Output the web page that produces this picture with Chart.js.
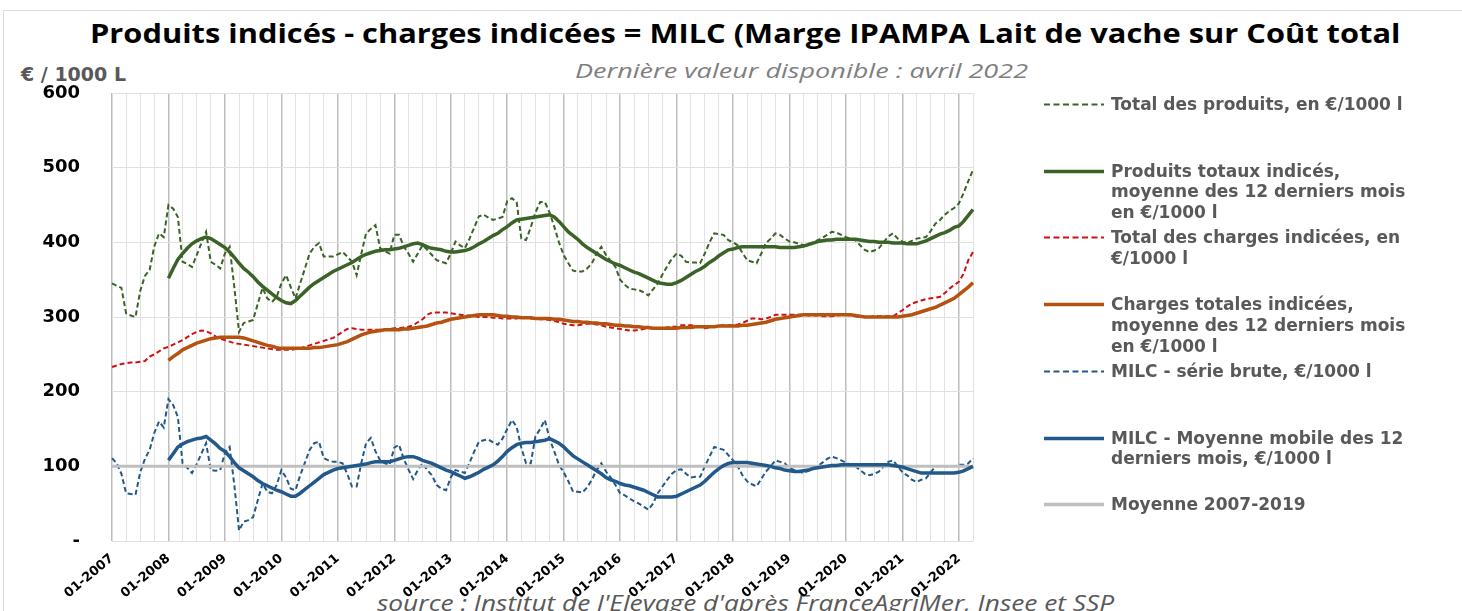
<!DOCTYPE html>
<html>
<head>
<meta charset="utf-8">
<style>
  body { margin: 0; background: #fff; }
  .wrap { position: relative; width: 1462px; height: 611px; overflow: hidden; }
  .frame { position: absolute; left: 3px; top: 10px; width: 1470px; height: 640px; border: 1px solid #dcdcdc; }
  canvas { position: absolute; left: 0; top: 0; }
  .fit { position: absolute; white-space: nowrap; transform-origin: 0 0; }
  .title { top: 14px; left: 90px; font: bold 27px "Open Sans", sans-serif; color: #000; }
  .sub { top: 57px; left: 575px; font: italic 20px "Open Sans", sans-serif; color: #7f7f7f; }
  .unit { position: absolute; top: 63px; left: 21px; font: bold 19px "DejaVu Sans", sans-serif; color: #595959; }
  .source { top: 587px; left: 377px; font: italic 22px "Open Sans", sans-serif; color: #595959; }
  .leg { position: absolute; left: 1043px; display: flex; align-items: flex-start; }
  .leg svg { flex: none; }
  .leg .txt { margin-left: 6px; font: bold 17px "DejaVu Sans", sans-serif; line-height: 20.7px; color: #595959; white-space: nowrap; }
</style>
</head>
<body>
<div class="wrap">
  <div class="frame"></div>
  <div class="fit title" data-w="1310">Produits indicés - charges indicées = MILC (Marge IPAMPA Lait de vache sur Coût total</div>
  <div class="fit sub" data-w="453">Dernière valeur disponible : avril 2022</div>
  <div class="unit">€ / 1000 L</div>
  <div class="fit source" data-w="737">source : Institut de l'Elevage d'après FranceAgriMer, Insee et SSP</div>
  <canvas id="milc" width="1462" height="611"></canvas>
  <div id="legend"></div>
</div>

<script src="https://cdn.jsdelivr.net/npm/chart.js"></script>
<script>
  // months 01-2007 .. 04-2022
  var labels = [];
  for (var y = 2007; y <= 2022; y++) {
    for (var m = 1; m <= 12; m++) {
      if (y === 2022 && m > 4) break;
      labels.push((m < 10 ? '0' + m : '' + m) + '-' + y);
    }
  }

  // Total des produits, en €/1000 l
  var totalProduits = [
    345, 342, 339, 305, 302, 300, 335, 355, 363, 395, 412, 407, // 2007
    450, 445, 434, 374, 371, 367, 383, 399, 414, 374, 370, 365, // 2008
    385, 394, 340, 280, 292, 294, 296, 318, 339, 325, 320, 327, // 2009
    345, 356, 340, 325, 345, 365, 385, 394, 399, 381, 381, 381, // 2010
    384, 387, 381, 374, 356, 385, 412, 418, 423, 392, 388, 385, // 2011
    410, 410, 395, 385, 374, 385, 396, 390, 383, 376, 374, 372, // 2012
    385, 401, 396, 392, 405, 420, 435, 437, 433, 430, 432, 434, // 2013
    455, 459, 454, 405, 403, 420, 440, 454, 454, 440, 421, 400, // 2014
    383, 372, 362, 361, 361, 365, 372, 385, 394, 383, 375, 367, // 2015
    350, 343, 338, 337, 336, 333, 329, 337, 345, 357, 368, 378, // 2016
    385, 382, 374, 373, 373, 372, 385, 400, 412, 411, 410, 403, // 2017
    400, 396, 386, 376, 374, 372, 385, 399, 405, 412, 410, 405, // 2018
    401, 400, 398, 396, 398, 400, 403, 406, 410, 414, 413, 410, // 2019
    407, 405, 403, 396, 390, 387, 389, 392, 400, 408, 412, 405, // 2020
    401, 399, 402, 405, 406, 407, 415, 425, 430, 437, 442, 446, // 2021
    452, 466, 482, 497                                          // 2022
  ];

  // Produits totaux indicés, moyenne des 12 derniers mois
  var produitsMoy = [
    null, null, null, null, null, null, null, null, null, null, null, null,
    352, 365, 377, 385, 392, 398, 402, 405, 407, 405, 401, 397,
    393, 387, 380, 372, 365, 360, 354, 347, 341, 336, 331, 326,
    322, 319, 318, 322, 328, 334, 340, 345, 349, 353, 357, 361,
    364, 367, 370, 373, 377, 381, 384, 386, 388, 389, 390, 390,
    391, 392, 394, 396, 398, 399, 397, 394, 392, 391, 390, 388,
    387, 387, 388, 389, 391, 394, 398, 401, 405, 409, 412, 417,
    421, 426, 430, 431, 432, 433, 434, 435, 436, 437, 434, 428,
    421, 414, 409, 404, 398, 393, 389, 385, 381, 377, 374, 371,
    369, 366, 363, 360, 358, 355, 352, 349, 346, 345, 344, 344,
    346, 349, 353, 357, 361, 364, 368, 373, 377, 382, 386, 390,
    391, 393, 394, 394, 394, 394, 394, 394, 394, 394, 393, 393,
    393, 393, 394, 395, 397, 399, 401, 402, 403, 403, 404, 404,
    404, 404, 404, 403, 402, 401, 401, 400, 400, 400, 399, 399,
    399, 398, 398, 398, 400, 402, 405, 408, 411, 413, 416, 420,
    422, 428, 436, 444
  ];

  // Total des charges indicées, en €/1000 l
  var totalCharges = [
    233, 235, 237, 238, 239, 239, 240, 241, 247, 250, 254, 258,
    260, 263, 266, 269, 273, 277, 280, 282, 281, 278, 274, 271,
    269, 267, 265, 264, 263, 262, 261, 260, 259, 258, 257, 256,
    256, 256, 256, 257, 258, 260, 262, 264, 266, 268, 270, 272,
    276, 280, 284, 285, 284, 283, 283, 283, 283, 283, 283, 284,
    285, 285, 286, 287, 289, 293, 297, 303, 306, 306, 306, 306,
    305, 304, 303, 302, 302, 301, 300, 300, 300, 299, 299, 298,
    298, 298, 298, 299, 299, 298, 298, 297, 297, 296, 295, 293,
    291, 290, 289, 289, 290, 291, 291, 290, 289, 287, 286, 285,
    284, 283, 282, 282, 283, 284, 285, 285, 285, 285, 286, 287,
    287, 289, 289, 289, 288, 287, 285, 286, 287, 288, 289, 289,
    289, 290, 292, 295, 298, 298, 297, 298, 300, 303, 303, 303,
    303, 303, 303, 303, 302, 302, 302, 301, 301, 301, 302, 303,
    303, 302, 301, 300, 300, 300, 301, 301, 301, 301, 301, 305,
    309, 314, 318, 320, 322, 324, 325, 326, 327, 332, 338, 343,
    347, 358, 376, 387
  ];

  // Charges totales indicées, moyenne des 12 derniers mois
  var chargesMoy = [
    null, null, null, null, null, null, null, null, null, null, null, null,
    242, 247, 251, 256, 259, 262, 265, 267, 269, 271, 272, 273,
    273, 273, 273, 273, 272, 270, 268, 266, 264, 262, 261, 259,
    258, 258, 258, 258, 258, 258, 258, 259, 259, 260, 261, 262,
    263, 265, 267, 270, 273, 276, 278, 280, 281, 282, 283, 283,
    283, 283, 284, 284, 285, 286, 287, 288, 290, 292, 293, 295,
    297, 298, 299, 300, 301, 302, 303, 303, 303, 303, 302, 301,
    301, 300, 300, 299, 299, 299, 298, 298, 298, 298, 297, 297,
    296, 295, 294, 294, 293, 293, 292, 292, 291, 291, 290, 289,
    289, 288, 288, 287, 287, 286, 286, 285, 285, 285, 285, 285,
    285, 286, 286, 286, 287, 287, 287, 287, 287, 288, 288, 288,
    288, 288, 289, 289, 290, 291, 292, 293, 295, 297, 298, 299,
    300, 301, 302, 303, 303, 303, 303, 303, 303, 303, 303, 303,
    303, 303, 302, 301, 300, 300, 300, 300, 300, 300, 300, 300,
    301, 302, 303, 305, 307, 309, 311, 313, 316, 319, 322, 325,
    330, 335, 340, 346
  ];

  // MILC - série brute
  var milcBrute = [
    111, 104, 90, 64, 63, 62, 92, 110, 122, 145, 160, 152,
    190, 182, 166, 104, 98, 91, 103, 117, 131, 95, 94, 95,
    118, 126, 75, 14, 26, 28, 32, 55, 77, 66, 64, 75,
    95, 85, 70, 68, 88, 105, 122, 131, 133, 111, 108, 106,
    106, 104, 90, 73, 73, 105, 131, 138, 120, 108, 104, 102,
    125, 129, 110, 96, 83, 95, 104, 95, 88, 75, 70, 68,
    85, 95, 93, 91, 105, 120, 133, 135, 136, 132, 129, 137,
    150, 162, 153, 125, 104, 104, 140, 150, 162, 137, 120, 102,
    92, 80, 66, 66, 65, 72, 82, 95, 104, 93, 85, 75,
    64, 61, 57, 53, 50, 46, 42, 50, 64, 73, 82, 90,
    95, 96, 90, 85, 86, 86, 100, 113, 126, 124, 122, 115,
    108, 100, 88, 80, 76, 73, 83, 93, 100, 108, 106, 104,
    98, 95, 93, 91, 94, 97, 100, 105, 110, 113, 111, 108,
    105, 102, 100, 95, 90, 88, 90, 93, 100, 106, 108, 100,
    92, 88, 82, 79, 82, 84, 92, 100, 100, 100, 100, 100,
    102, 102, 104, 111
  ];

  // MILC - moyenne mobile des 12 derniers mois
  var milcMoy = [
    null, null, null, null, null, null, null, null, null, null, null, null,
    108, 117, 126, 130, 133, 135, 137, 138, 140, 135, 130, 124,
    120, 113, 105, 98, 94, 90, 86, 81, 77, 74, 71, 68,
    66, 63, 60, 60, 64, 69, 74, 79, 84, 89, 92, 95,
    97, 98, 99, 100, 101, 102, 103, 105, 106, 106, 106, 106,
    108, 110, 112, 113, 113, 111, 108, 106, 104, 101, 98, 95,
    93, 90, 87, 84, 86, 89, 92, 96, 99, 102, 107, 113,
    120, 125, 129, 131, 132, 132, 133, 134, 135, 137, 134, 131,
    126, 120, 114, 110, 106, 102, 98, 94, 90, 85, 82, 80,
    77, 75, 74, 72, 70, 68, 65, 62, 59, 59, 59, 59,
    60, 63, 66, 69, 72, 75, 80, 86, 92, 97, 101, 104,
    105, 105, 105, 105, 104, 103, 102, 101, 100, 98, 97, 95,
    94, 93, 93, 94, 95, 97, 98, 99, 100, 101, 101, 102,
    102, 102, 102, 102, 102, 102, 102, 102, 102, 102, 101, 100,
    99, 97, 95, 93, 91, 91, 91, 91, 91, 91, 91, 91,
    92, 94, 97, 100
  ];

  // Moyenne 2007-2019
  var moyenneRef = 100;

  var green = '#3b6327', red = '#d01010', brown = '#b5520f', blue = '#22598a', grey = '#bfbfbf';
  var dash = [5, 3];

  var datasets = [
    { label: ['Total des produits, en €/1000 l'], data: totalProduits, borderColor: green, borderWidth: 2, borderDash: dash, order: 3 },
    { label: ['Produits totaux indicés,', 'moyenne des 12 derniers mois', 'en €/1000 l'], data: produitsMoy, borderColor: green, borderWidth: 3.5, order: 1 },
    { label: ['Total des charges indicées, en', '€/1000 l'], data: totalCharges, borderColor: red, borderWidth: 2, borderDash: dash, order: 3 },
    { label: ['Charges totales indicées,', 'moyenne des 12 derniers mois', 'en €/1000 l'], data: chargesMoy, borderColor: brown, borderWidth: 3.5, order: 1 },
    { label: ['MILC - série brute, €/1000 l'], data: milcBrute, borderColor: blue, borderWidth: 2, borderDash: dash, order: 3 },
    { label: ['MILC - Moyenne mobile des 12', 'derniers mois, €/1000 l'], data: milcMoy, borderColor: blue, borderWidth: 3.5, order: 1 },
    { label: ['Moyenne 2007-2019'], data: [{ x: labels[0], y: moyenneRef }, { x: labels[labels.length - 1], y: moyenneRef }], borderColor: grey, borderWidth: 3, order: 2 }
  ];
  datasets.forEach(function (d) {
    d.pointRadius = 0;
    d.fill = false;
    d.tension = 0;
  });

  new Chart(document.getElementById('milc'), {
    type: 'line',
    data: { labels: labels, datasets: datasets },
    options: {
      responsive: false,
      animation: false,
      layout: { padding: { top: 93, right: 489, left: 0, bottom: 0 } },
      plugins: { legend: { display: false }, tooltip: { enabled: false } },
      scales: {
        x: {
          ticks: {
            autoSkip: false, maxRotation: 40, minRotation: 40, padding: 10,
            color: '#000', font: { family: 'DejaVu Sans', size: 13, weight: 'bold' },
            callback: function (v) {
              var l = this.getLabelForValue(v);
              return l.indexOf('01-') === 0 ? l : '';
            }
          },
          grid: {
            drawTicks: false,
            color: function (ctx) {
              if (ctx.index % 12 === 0) return '#bdbdbd';
              if (ctx.index % 3 === 0) return '#e2e2e2';
              return 'rgba(0,0,0,0)';
            },
            lineWidth: function (ctx) { return ctx.index % 12 === 0 ? 1.5 : 1; }
          },
          border: { display: false },
          afterFit: function (s) { s.height = 70; }
        },
        y: {
          min: 0, max: 600,
          ticks: {
            stepSize: 100, padding: 32, color: '#000',
            font: { family: 'DejaVu Sans', size: 18, weight: 'bold' },
            callback: function (v) { return v === 0 ? '-' : v; }
          },
          grid: { drawTicks: false, color: '#e0e0e0' },
          border: { display: false },
          afterFit: function (s) { s.width = 112; }
        }
      }
    }
  });

  // legend on the right, built from the datasets
  var legend = document.getElementById('legend');
  datasets.forEach(function (d, i) {
    var item = document.createElement('div');
    item.className = 'leg';
    item.style.top = (94 + i * 66.7) + 'px';
    var dashAttr = d.borderDash ? ' stroke-dasharray="6 3.5"' : '';
    var w = d.borderDash ? 2 : 3.5;
    item.innerHTML = '<svg width="62" height="21"><line x1="1" y1="10.5" x2="61" y2="10.5" stroke="' + d.borderColor +
      '" stroke-width="' + w + '"' + dashAttr + '/></svg><div class="txt">' + d.label.join('<br>') + '</div>';
    legend.appendChild(item);
  });

  // stretch the header / footer texts to the width they take in the original
  document.querySelectorAll('.fit').forEach(function (el) {
    var k = parseFloat(el.getAttribute('data-w')) / el.getBoundingClientRect().width;
    el.style.transform = 'scaleX(' + k.toFixed(3) + ')';
  });
</script>
</body>
</html>
